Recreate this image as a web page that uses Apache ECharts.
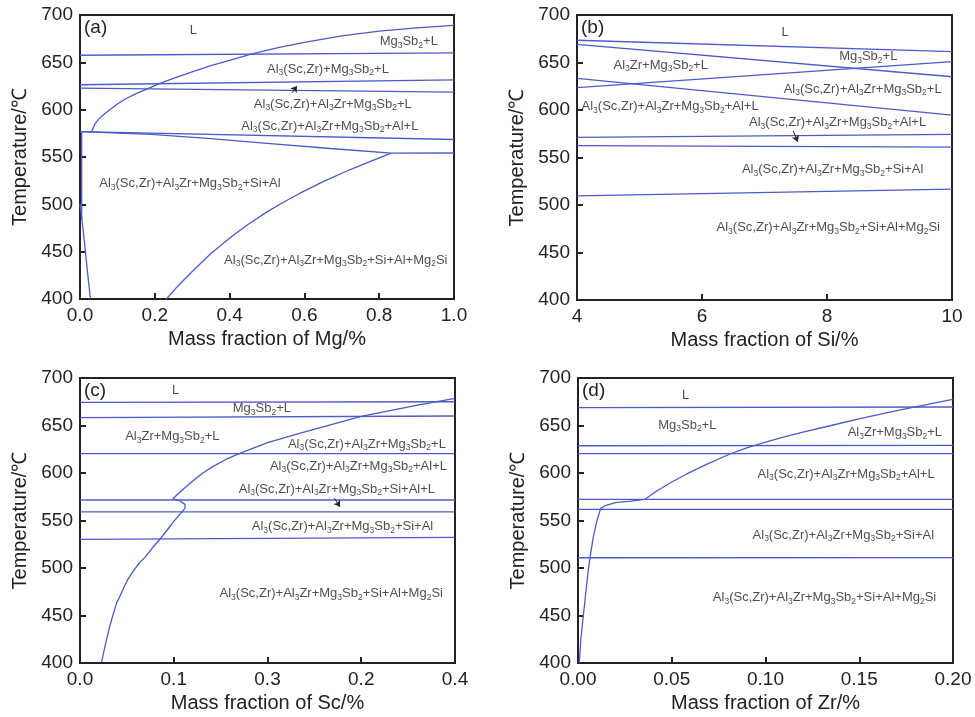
<!DOCTYPE html>
<html><head><meta charset="utf-8">
<script src="https://cdn.jsdelivr.net/npm/echarts@6/dist/echarts.min.js"></script>
<style>html,body{margin:0;padding:0;background:#fff}#c{width:975px;height:717px}</style>
</head><body><div id="c"></div>
<script>
// ---------- Panel (a): Mg ----------
const aTicks = ['0.0','0.2','0.4','0.6','0.8','1.0'];
const aLine657 = [[0,657.5],[1,660]];
const aLine626 = [[0,626.3],[1,631.5]];
const aLine622 = [[0,622.8],[1,618.5]];
const aLine577 = [[0,576.8],[1,568.5]];
const aLine577b = [[0,576.8],[0.19,574],[0.35,569.5],[0.5,564.5],[0.67,559],[0.832,554]];
const aLine554 = [[0.832,554],[1,554.2]];
const aLiquidus = [[0.031,577],[0.04,585],[0.05,590],[0.065,595.5],[0.08,600],[0.1,606],[0.12,611],[0.15,617],[0.18,622],[0.215,628],[0.25,633],[0.3,640],[0.35,646.5],[0.4,652],[0.46,659],[0.53,665.5],[0.6,671],[0.7,678],[0.8,683],[0.9,686.5],[1,689]];
const aSolvus = [[0.231,400],[0.26,413],[0.3,429],[0.35,448],[0.409,467],[0.45,479],[0.5,492],[0.545,502.5],[0.587,511.5],[0.65,524],[0.721,536.5],[0.78,546],[0.832,554]];
const aVert = [[0.0045,577],[0.0045,484]];
const aLeftCurve = [[0,501],[0.005,484],[0.01,467],[0.015,448],[0.021,425],[0.028,400]];
const aArrow = [[0.567,617.8],[0.580,624.9]];
const aLabels = [
  ['L',0.303,683.3],
  ['Mg_3Sb_2+L',0.879,671.7],
  ['Al_3(Sc,Zr)+Mg_3Sb_2+L',0.663,642.9],
  ['Al_3(Sc,Zr)+Al_3Zr+Mg_3Sb_2+L',0.676,605.9],
  ['Al_3(Sc,Zr)+Al_3Zr+Mg_3Sb_2+Al+L',0.668,582.7],
  ['Al_3(Sc,Zr)+Al_3Zr+Mg_3Sb_2+Si+Al',0.294,522],
  ['Al_3(Sc,Zr)+Al_3Zr+Mg_3Sb_2+Si+Al+Mg_2Si',0.684,441.2]
];

// ---------- Panel (b): Si ----------
const bTicks = ['4','6','8','10'];
const bLine1 = [[4,673.4],[10,661.4]];
const bLine2 = [[4,669],[10,635]];
const bLine3 = [[4,623.5],[10,651]];
const bLine4 = [[4,633.3],[10,594.7]];
const bLine5 = [[4,571.2],[10,574.4]];
const bLine6 = [[4,562.4],[10,561]];
const bLine7 = [[4,509.5],[10,516.8]];
const bArrow = [[7.46,578.2],[7.53,566.7]];
const bLabels = [
  ['L',7.33,681.8],
  ['Mg_3Sb_2+L',8.66,656.1],
  ['Al_3Zr+Mg_3Sb_2+L',5.34,647.4],
  ['Al_3(Sc,Zr)+Al_3Zr+Mg_3Sb_2+L',8.57,622.1],
  ['Al_3(Sc,Zr)+Al_3Zr+Mg_3Sb_2+Al+L',5.49,603.5],
  ['Al_3(Sc,Zr)+Al_3Zr+Mg_3Sb_2+Al+L',8.17,586.6],
  ['Al_3(Sc,Zr)+Al_3Zr+Mg_3Sb_2+Si+Al',8.09,537.6],
  ['Al_3(Sc,Zr)+Al_3Zr+Mg_3Sb_2+Si+Al+Mg_2Si',8.02,476.1]
];

// ---------- Panel (c): Sc ----------
const cTicks = ['0.0','0.1','0.3','0.2','0.4'];
const cLine675 = [[0,674.4],[0.4,675]];
const cLine659 = [[0,658.2],[0.4,660]];
const cLine620 = [[0,620.3],[0.4,620.5]];
const cLine572 = [[0,571.6],[0.4,571.6]];
const cLine559 = [[0,559],[0.4,559]];
const cLine530 = [[0,530.2],[0.4,532.3]];
const cCurve = [[0.4,678.5],[0.36,671.5],[0.3,659.5],[0.235,642],[0.2,632],[0.171,621],[0.155,614],[0.142,607],[0.131,600],[0.121,592],[0.11,583],[0.099,573],[0.106,571],[0.112,567],[0.112,563],[0.107,557],[0.1,549],[0.093,540],[0.085,530],[0.077,521],[0.07,512],[0.063,505],[0.057,497],[0.051,488],[0.047,480],[0.043,471],[0.039,463],[0.035,450],[0.031,436],[0.027,419],[0.023,401]];
const cArrow = [[0.2713,573.4],[0.2773,564.5]];
const cLabels = [
  ['L',0.102,686.6],
  ['Mg_3Sb_2+L',0.194,668.1],
  ['Al_3Zr+Mg_3Sb_2+L',0.0985,638.2],
  ['Al_3(Sc,Zr)+Al_3Zr+Mg_3Sb_2+L',0.306,630.5],
  ['Al_3(Sc,Zr)+Al_3Zr+Mg_3Sb_2+Al+L',0.297,607.4],
  ['Al_3(Sc,Zr)+Al_3Zr+Mg_3Sb_2+Si+Al+L',0.274,583.2],
  ['Al_3(Sc,Zr)+Al_3Zr+Mg_3Sb_2+Si+Al',0.28,543.5],
  ['Al_3(Sc,Zr)+Al_3Zr+Mg_3Sb_2+Si+Al+Mg_2Si',0.268,473.4]
];

// ---------- Panel (d): Zr ----------
const dTicks = ['0.00','0.05','0.10','0.15','0.20'];
const dLine669 = [[0,668.8],[0.2,669.5]];
const dLine629 = [[0,628.7],[0.2,629]];
const dLine620 = [[0,620.3],[0.2,620.3]];
const dLine572 = [[0,572.3],[0.2,572.3]];
const dLine562 = [[0,561.8],[0.2,561.8]];
const dLine511 = [[0,510.8],[0.2,511]];
const dCurve = [[0.0007,400],[0.0015,425],[0.0028,449],[0.0042,475],[0.0055,498],[0.0068,516],[0.0082,533],[0.01,549],[0.0121,562.8],[0.015,566],[0.02,568.8],[0.028,570.5],[0.0357,572.3],[0.042,581],[0.05,590.5],[0.058,599],[0.068,608.5],[0.081,620],[0.09,626.5],[0.1,632.5],[0.11,638],[0.12,643],[0.135,650],[0.1486,656.5],[0.162,662.2],[0.1753,667.8],[0.1998,677.6]];
const dLabels = [
  ['L',0.0574,681.4],
  ['Mg_3Sb_2+L',0.0583,650.5],
  ['Al_3Zr+Mg_3Sb_2+L',0.169,642.4],
  ['Al_3(Sc,Zr)+Al_3Zr+Mg_3Sb_2+Al+L',0.143,598.9],
  ['Al_3(Sc,Zr)+Al_3Zr+Mg_3Sb_2+Si+Al',0.1415,534.7],
  ['Al_3(Sc,Zr)+Al_3Zr+Mg_3Sb_2+Si+Al+Mg_2Si',0.1315,469.2]
];

const panelTags = ['(a)','(b)','(c)','(d)'];
const xNames = ['Mass fraction of Mg/%','Mass fraction of Si/%','Mass fraction of Sc/%','Mass fraction of Zr/%'];

// ---------- build ----------
const FONT = 'Liberation Sans, Arial, sans-serif';
const BLUE = '#4a5bcb';
const INK = '#222';
const grids = [
  {left:80, top:15, width:374, height:284},
  {left:577, top:15, width:375, height:285},
  {left:80, top:378, width:375, height:285},
  {left:578, top:378, width:375, height:285}
].map(g => Object.assign(g, {show:true, borderColor:INK, borderWidth:2}));

const xDefs = [
  {min:0, max:1, interval:0.2, ticks:aTicks},
  {min:4, max:10, interval:2, ticks:bTicks},
  {min:0, max:0.4, interval:0.1, ticks:cTicks},
  {min:0, max:0.2, interval:0.05, ticks:dTicks}
];

const xAxis = xDefs.map((d,i) => ({
  type:'value', gridIndex:i, min:d.min, max:d.max, interval:d.interval,
  axisLine:{show:true, lineStyle:{color:INK, width:2}},
  axisTick:{show:true, inside:true, length:6, lineStyle:{color:INK, width:2}},
  splitLine:{show:false},
  axisLabel:{fontSize:19, color:INK, fontFamily:FONT, margin:7,
    formatter:(v) => { const k = Math.round((v - d.min)/d.interval); return d.ticks[k] !== undefined ? d.ticks[k] : ''; }},
  name:xNames[i], nameLocation:'middle', nameGap:30,
  nameTextStyle:{fontSize:20, color:INK, fontFamily:FONT}
}));
const yAxis = [0,1,2,3].map(i => ({
  type:'value', gridIndex:i, min:400, max:700, interval:50,
  axisLine:{show:true, lineStyle:{color:INK, width:2}},
  axisTick:{show:true, inside:true, length:6, lineStyle:{color:INK, width:2}},
  splitLine:{show:false},
  axisLabel:{fontSize:19, color:INK, fontFamily:FONT, margin:7},
  name:'Temperature/℃', nameLocation:'middle', nameGap:50, nameRotate:90,
  nameTextStyle:{fontSize:20, color:INK, fontFamily:FONT}
}));

function sub(s){ return s.replace(/_(\d)/g, '{s|$1}'); }

const series = [];
function addLine(i, data){
  series.push({type:'line', xAxisIndex:i, yAxisIndex:i, data:data, showSymbol:false, symbol:'none',
    smooth:false, lineStyle:{color:BLUE, width:1.3}, silent:true, z:2});
}
function addArrow(i, data){
  series.push({type:'lines', coordinateSystem:'cartesian2d', xAxisIndex:i, yAxisIndex:i,
    symbol:['none','arrow'], symbolSize:6, lineStyle:{color:INK, width:1, opacity:1}, silent:true, z:3,
    data:[{coords:data}]});
}
function addLabels(i, labels){
  series.push({type:'scatter', xAxisIndex:i, yAxisIndex:i, symbolSize:1, itemStyle:{color:'rgba(0,0,0,0)'}, silent:true, z:4,
    data: labels.map(l => ({value:[l[1], l[2]], t:l[0]})),
    label:{show:true, position:'inside', color:INK, fontFamily:FONT, fontSize:13, lineHeight:15,
      formatter:(p) => sub(p.data.t),
      rich:{s:{fontSize:8.5, lineHeight:9, padding:[8,0,0,0], color:INK, fontFamily:FONT}}}
  });
}

[aLine657,aLine626,aLine622,aLine577,aLine577b,aLine554,aVert,aLiquidus,aSolvus,aLeftCurve].forEach(d => addLine(0,d));
addArrow(0,aArrow); addLabels(0,aLabels);

[bLine1,bLine2,bLine3,bLine4,bLine5,bLine6,bLine7].forEach(d => addLine(1,d));
addArrow(1,bArrow); addLabels(1,bLabels);

[cLine675,cLine659,cLine620,cLine572,cLine559,cLine530,cCurve].forEach(d => addLine(2,d));
addArrow(2,cArrow); addLabels(2,cLabels);

[dLine669,dLine629,dLine620,dLine572,dLine562,dLine511,dCurve].forEach(d => addLine(3,d));
addLabels(3,dLabels);

const graphic = grids.map((g,i) => ({type:'text', left:g.left+4, top:g.top+3,
  style:{text:panelTags[i], fontSize:19, fill:INK, fontFamily:FONT}}));

const chart = echarts.init(document.getElementById('c'), null, {renderer:'canvas'});
chart.setOption({animation:false, backgroundColor:'#fff', grid:grids, xAxis:xAxis, yAxis:yAxis, series:series, graphic:graphic});
</script></body></html>
